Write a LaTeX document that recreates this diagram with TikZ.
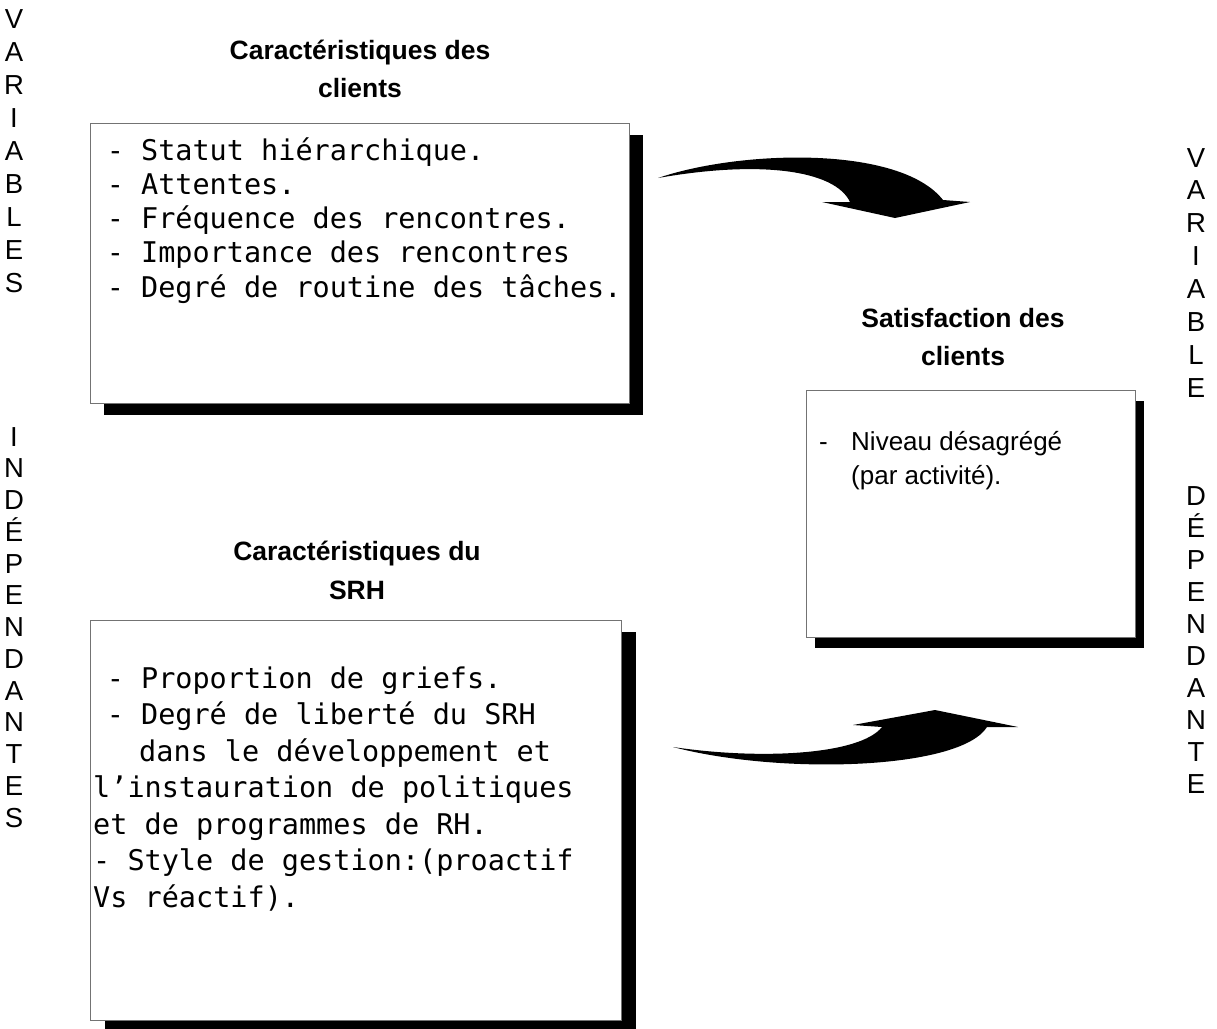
\documentclass[tikz,border=0pt]{standalone}
\usepackage{fontspec}
\setmainfont{Liberation Sans}
\newfontfamily\monof{DejaVu Sans Mono}
\usetikzlibrary{shadows}
\begin{document}
\begin{tikzpicture}[x=1pt,y=-1pt,
  vlet/.style={font=\fontsize{27.5}{27.5}\selectfont, anchor=base, inner sep=0pt},
  head/.style={font=\bfseries\fontsize{26.5}{26.5}\selectfont, anchor=base, inner sep=0pt},
  mono/.style={font=\monof\fontsize{28.5}{28.5}\selectfont, anchor=base west, inner sep=0pt},
  sanst/.style={font=\fontsize{26}{26}\selectfont, anchor=base west, inner sep=0pt},
  panel/.style={draw=black!55, line width=0.7pt, fill=white, anchor=north west, inner sep=0pt},
  swoosh/.style={fill=black, draw=none}]
\useasboundingbox (0,0) rectangle (1217,1028);
\fill[white] (0,0) rectangle (1217,1028);

% panels
\node[panel, minimum width=539pt, minimum height=280pt,
  drop shadow={shadow xshift=14pt, shadow yshift=-12pt, fill=black, opacity=1}] (box1) at (90,123) {};
\node[panel, minimum width=531pt, minimum height=400pt,
  drop shadow={shadow xshift=15pt, shadow yshift=-12pt, fill=black, opacity=1}] (box2) at (90,620) {};
\node[panel, minimum width=329pt, minimum height=247pt,
  drop shadow={shadow xshift=9pt, shadow yshift=-11pt, fill=black, opacity=1}] (box3) at (806,390) {};

% vertical labels
\foreach \c [count=\i] in {V,A,R,I,A,B,L,E,S}
  \node[vlet] (lv\i) at (14,{28+33.1*(\i-1)}) {\c};
\foreach \c [count=\i] in {I,N,D,É,P,E,N,D,A,N,T,E,S}
  \node[vlet] (li\i) at (14,{446+31.75*(\i-1)}) {\c};
\foreach \c [count=\i] in {V,A,R,I,A,B,L,E}
  \node[vlet] (rv\i) at (1196,{167+32.9*(\i-1)}) {\c};
\foreach \c [count=\i] in {D,É,P,E,N,D,A,N,T,E}
  \node[vlet] (rd\i) at (1196,{505+32*(\i-1)}) {\c};

% headings
\node[head] (h1a) at (360,59) {Caractéristiques des};
\node[head] (h1b) at (360,97) {clients};
\node[head] (h3a) at (963,327) {Satisfaction des};
\node[head] (h3b) at (963,365) {clients};
\node[head] (h2a) at (357,560) {Caractéristiques du};
\node[head] (h2b) at (357,599) {SRH};

% box 1 text
\foreach \t [count=\i] in {{- Statut hiérarchique.},{- Attentes.},{- Fréquence des rencontres.},{- Importance des rencontres},{- Degré de routine des tâches.}}
  \node[mono] (t1\i) at (106.6,{160+34.3*(\i-1)}) {\t};

% box 2 text
\node[mono] (t21) at (106.6,688) {- Proportion de griefs.};
\node[mono] (t22) at (106.6,724.5) {- Degré de liberté du SRH};
\node[mono] (t23) at (139,761) {dans le développement et};
\node[mono] (t24) at (93,797.5) {l’instauration de politiques};
\node[mono] (t25) at (93,834) {et de programmes de RH.};
\node[mono] (t26) at (93,870.5) {- Style de gestion:(proactif};
\node[mono] (t27) at (93,907) {Vs réactif).};

% box 3 text
\node[sanst] (t31) at (819,450) {-};
\node[sanst] (t32) at (851,450) {Niveau désagrégé};
\node[sanst] (t33) at (851,484) {(par activité).};

% swoosh arrows
\fill[swoosh] (658,178) .. controls (740,150) and (900,145) .. (943,200)
  -- (970,202) -- (895,218) -- (822,202) -- (850,202)
  .. controls (835,170) and (760,160) .. (658,178) -- cycle;
\fill[swoosh] (673,747) .. controls (780,775) and (960,770) .. (987,727)
  -- (1018,727) -- (935,710) -- (853,725) -- (882,727)
  .. controls (860,755) and (760,760) .. (673,747) -- cycle;
\end{tikzpicture}
\end{document}
